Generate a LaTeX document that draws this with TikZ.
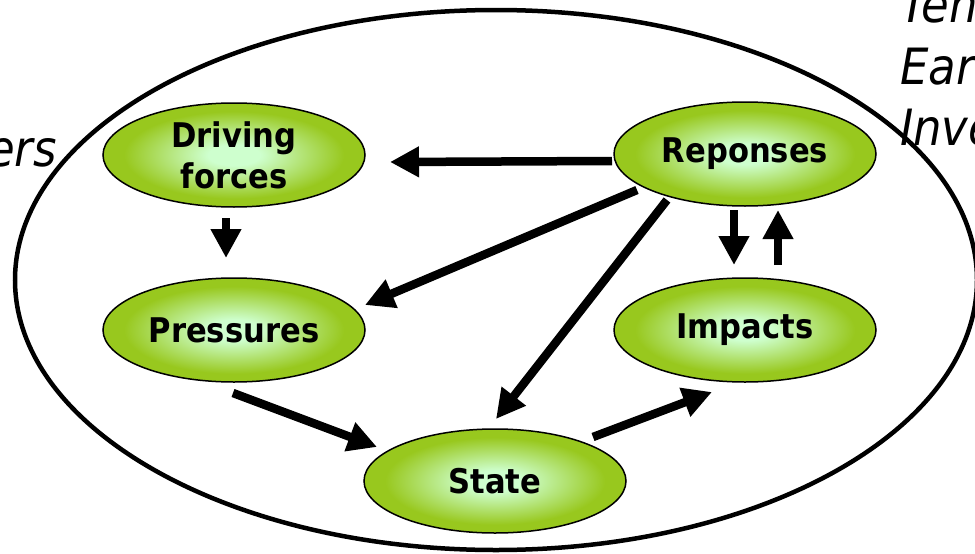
\documentclass[tikz,border=0pt]{standalone}
\usepackage{fontspec}
\setmainfont{DejaVu Sans Condensed}
\usetikzlibrary{shapes.geometric,arrows.meta,calc}
\definecolor{gin}{RGB}{206,255,206}
\definecolor{gout}{RGB}{152,200,30}
\pgfdeclareradialshading{nodeshade}{\pgfpoint{0bp}{0bp}}{color(0bp)=(gin); color(5bp)=(gin); color(21bp)=(gout); color(50bp)=(gout)}
\tikzset{
  stage/.style={ellipse, draw=black, line width=1.5pt, shading=nodeshade,
    minimum width=262pt, minimum height=104pt, inner sep=0pt, align=center,
    font=\bfseries\fontsize{34}{41}\selectfont},
  arr/.style={line width=8.5pt, -{Triangle[length=29pt,width=29pt]}},
  side/.style={font=\itshape\fontsize{50}{50}\selectfont, inner sep=0pt}
}
\begin{document}
\begin{tikzpicture}[x=1pt,y=-1pt]
\useasboundingbox (0,0) rectangle (975,554);
\node[draw=black, line width=4.5pt, ellipse, minimum width=962pt, minimum height=540pt] (outer) at (496,280) {};
\node[stage] (df) at (234,155) {Driving\\forces};
\node[stage] (rep) at (745,154) {Reponses};
\node[stage] (pr) at (234,330) {Pressures};
\node[stage] (im) at (745,330) {Impacts};
\node[stage] (st) at (495,481) {State};
% arrows
\draw[arr] ($(rep)+(-133,7)$) -- ($(df)+(156,7)$);
\draw[arr] ($(df)+(-8,63)$) -- ($(pr)+(-8,-72)$);
\draw[arr] ($(rep)+(-108,36)$) -- ($(pr)+(131,-25)$);
\draw[arr] ($(rep)+(-78,46)$) -- ($(st)+(1,-62)$);
\draw[arr] ($(rep)+(-11,56)$) -- ($(im)+(-11,-65)$);
\draw[arr] ($(im)+(33,-65)$) -- ($(rep)+(33,56)$);
\draw[arr] ($(pr)+(-1,63)$) -- ($(st)+(-118,-34)$);
\draw[arr] ($(st)+(98,-44)$) -- ($(im)+(-33,62)$);
% side texts (clipped)
\node[side, anchor=base east] (ers) at (57,166) {ers};
\node[side, anchor=base west] (t1) at (900,22) {Ten};
\node[side, anchor=base west] (t2) at (900,84) {Ear};
\node[side, anchor=base west] (t3) at (900,145) {Inve};
\end{tikzpicture}
\end{document}
